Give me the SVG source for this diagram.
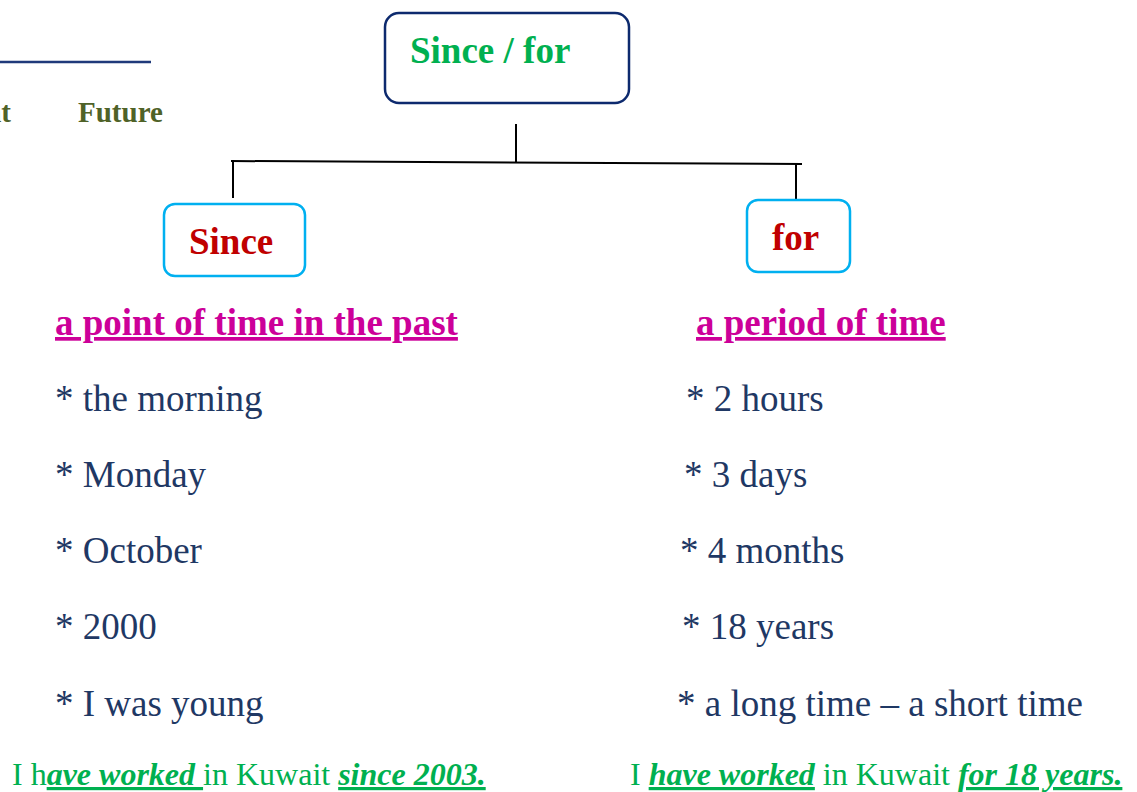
<svg xmlns="http://www.w3.org/2000/svg" width="1137" height="792" viewBox="0 0 1137 792">
<style>
text{font-family:"Liberation Serif","Times New Roman",serif}
.timeline{fill:#4f6228;font-weight:bold;font-size:29px}
.item{fill:#1f3864;font-size:37px}
.head{fill:#cc0099;font-weight:bold;font-size:37px;text-decoration:underline}
.box-main{fill:#fff;stroke:#0d2a6e;stroke-width:2.5}
.box-sub{fill:#fff;stroke:#00b0f0;stroke-width:2.5}
.lbl-red{fill:#c00000;font-weight:bold;font-size:37px}
.conn{stroke:#000;stroke-width:2;fill:none}
.ex{fill:#00b050;font-size:32px}
.em{font-weight:bold;font-style:italic;text-decoration:underline}
</style>
<rect width="1137" height="792" fill="#fff"/>
<g id="timeline">
<line x1="0" y1="62" x2="151" y2="62" stroke="#1f3a7a" stroke-width="2.5"/>
<text class="timeline" x="11" y="122" text-anchor="end">Present</text>
<text class="timeline" x="78" y="122">Future</text>
</g>
<g id="connectors">
<line class="conn" x1="516" y1="124" x2="516" y2="162"/>
<line class="conn" x1="231" y1="161" x2="802" y2="164"/>
<line class="conn" x1="233" y1="161" x2="233" y2="198"/>
<line class="conn" x1="796" y1="164" x2="796" y2="200"/>
</g>
<g id="node-root">
<rect class="box-main" x="385" y="13" width="244" height="90" rx="14"/>
<text x="410" y="63" fill="#00b050" font-weight="bold" font-size="37">Since / for</text>
</g>
<g id="node-since">
<rect class="box-sub" x="164" y="204" width="141" height="72" rx="11"/>
<text class="lbl-red" x="189" y="254">Since</text>
</g>
<g id="node-for">
<rect class="box-sub" x="747" y="200" width="103" height="72" rx="11"/>
<text class="lbl-red" x="772" y="250">for</text>
</g>
<g id="since-list">
<text class="head" x="55" y="335">a point of time in the past</text>
<text class="item" x="55" y="411">* the morning</text>
<text class="item" x="55" y="487">* Monday</text>
<text class="item" x="55" y="563">* October</text>
<text class="item" x="55" y="639">* 2000</text>
<text class="item" x="55" y="716">* I was young</text>
<text class="ex" x="12" y="785">I h<tspan class="em">ave worked </tspan>in Kuwait <tspan class="em">since 2003.</tspan></text>
</g>
<g id="for-list">
<text class="head" x="696" y="335">a period of time</text>
<text class="item" x="686" y="411">* 2 hours</text>
<text class="item" x="684" y="487">* 3 days</text>
<text class="item" x="680" y="563">* 4 months</text>
<text class="item" x="682" y="639">* 18 years</text>
<text class="item" x="677" y="716">* a long time – a short time</text>
<text class="ex" x="630" y="785">I <tspan class="em">have worked</tspan> in Kuwait <tspan class="em">for 18 years.</tspan></text>
</g>
</svg>
